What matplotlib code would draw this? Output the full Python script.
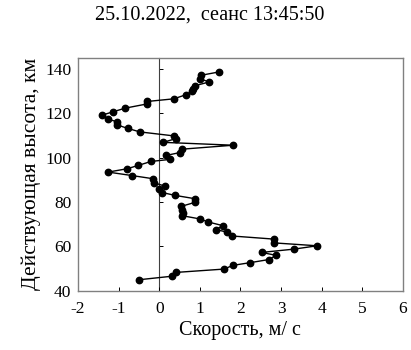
import matplotlib
matplotlib.use("Agg")
import matplotlib.pyplot as plt

plt.rcParams['font.family'] = ['Liberation Serif', 'DejaVu Serif']
plt.rcParams['axes.unicode_minus'] = False

# скорость, м/с и действующая высота, км (снизу вверх)
height = [45.0, 46.6, 48.3, 49.8, 51.5, 52.7, 54.1, 56.0, 57.3, 58.8,
          60.3, 61.6, 63.3, 64.7, 66.4, 67.6, 69.4, 71.0, 72.4, 73.9,
          75.2, 76.5, 78.0, 79.8, 81.5, 83.0, 84.3, 85.9, 87.2, 88.7,
          90.5, 91.9, 93.5, 95.0, 96.5, 98.3, 99.2, 101.0, 102.3, 103.8,
          105.6, 106.9, 108.6, 109.8, 111.6, 113.2, 114.7, 116.2, 117.4, 119.2,
          120.7, 122.3, 124.2, 125.3, 126.5, 128.3, 129.8, 130.9, 132.4, 134.1,
          135.5, 137.1, 138.6]
speed = [-0.50, 0.32, 0.41, 1.59, 1.82, 2.24, 2.70, 2.88, 2.52, 3.32,
         3.89, 2.83, 2.83, 1.80, 1.68, 1.40, 1.56, 1.21, 1.00, 0.55,
         0.59, 0.57, 0.53, 0.87, 0.88, 0.39, 0.07, 0.00, 0.14, -0.14,
         -0.15, -0.66, -1.26, -0.79, -0.52, -0.20, 0.26, 0.17, 0.51, 0.55,
         1.82, 0.09, 0.42, 0.36, -0.48, -0.78, -1.03, -1.05, -1.27, -1.40,
         -1.13, -0.84, -0.30, -0.30, 0.36, 0.65, 0.80, 0.84, 0.88, 1.23,
         1.00, 1.03, 1.47]

xticks = [-2, -1, 0, 1, 2, 3, 4, 5, 6]
yticks = [40, 60, 80, 100, 120, 140]

fig = plt.figure(figsize=(4.11, 3.5), dpi=100)
ax = fig.add_axes([0.19, 0.169, 0.79, 0.666])

ax.plot(speed, height, color='black', lw=1.0, marker='o', ms=4.6, zorder=3)

ax.set_xlim(-2, 6)
ax.set_ylim(40, 145)
ax.set_xticks(xticks)
ax.set_yticks(yticks)
ax.tick_params(axis='x', direction='in', length=3, width=0.7, labelsize=12.5, pad=7)
ax.tick_params(axis='y', length=0, labelsize=12.5, pad=5)
for s in ax.spines.values():
    s.set_color('#808080')
    s.set_linewidth(1.0)

# вертикальная ось в нуле
sec = ax.secondary_yaxis(0.25)
sec.set_yticks(yticks[1:])
sec.tick_params(axis='y', direction='in', length=3, width=0.7, labelleft=False)
sec.spines['left'].set_color('#404040')
sec.spines['left'].set_linewidth(0.8)

ax.set_xlabel('Скорость, м/ с', fontsize=14.5, labelpad=3)
ax.set_ylabel('Действующая высота, км', fontsize=15.5, labelpad=3)
fig.text(0.51, 0.957, '25.10.2022,  сеанс 13:45:50', fontsize=14.5,
         ha='center', va='center')

fig.savefig('out.png', dpi=100)
